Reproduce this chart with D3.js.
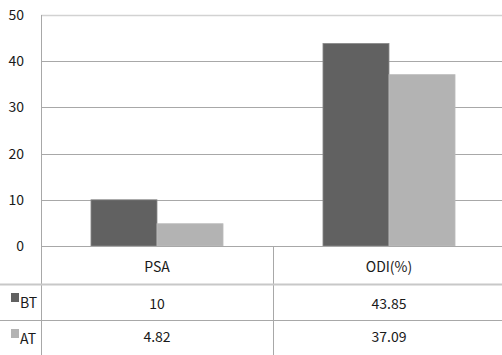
<!DOCTYPE html>
<html>
<head>
<meta charset="utf-8">
<script src="https://cdn.jsdelivr.net/npm/d3@7/dist/d3.min.js"></script>
<style>
  html, body { margin: 0; padding: 0; background: #fff; }
  svg { display: block; }
  text { font-family: "Noto Sans CJK KR", "Noto Sans", sans-serif; fill: #1a1a1a; }
</style>
</head>
<body>
<svg id="chart" width="502" height="355"></svg>
<script>
// Chart data
const categories = ["PSA", "ODI(%)"];
const seriesNames = ["BT", "AT"];
const btValues = [10, 43.85];
const atValues = [4.82, 37.09];
const valueLabels = [["10", "43.85"], ["4.82", "37.09"]];
const yTicks = [0, 10, 20, 30, 40, 50];

const seriesValues = [btValues, atValues];
const colors = ["#616161", "#b3b3b3"];

const svg = d3.select("#chart");
const plotLeft = 41, plotRight = 505, plotTop = 15, plotBottom = 246;
const rowLines = [284, 320];
const tableBottom = 355;

const x = d3.scaleBand().domain(categories).range([plotLeft, plotRight]).paddingInner(0).paddingOuter(0);
const xs = d3.scaleBand().domain(seriesNames).range([0, x.bandwidth()]).paddingInner(0).paddingOuter(0.757);
const y = d3.scaleLinear().domain([0, 50]).range([plotBottom, plotTop]);

// gridlines
svg.append("g").selectAll("line").data(yTicks.filter(d => d > 0)).join("line")
  .attr("x1", plotLeft).attr("x2", plotRight)
  .attr("y1", d => Math.round(y(d)) + 0.5).attr("y2", d => Math.round(y(d)) + 0.5)
  .attr("stroke", d => d === 50 ? "#d2d2d2" : "#a8a8a8")
  .attr("stroke-width", d => d === 50 ? 1.5 : 1);

// y axis labels
const yAxis = d3.axisLeft(y).tickValues(yTicks).tickSize(0).tickPadding(0);
const ya = svg.append("g").attr("transform", "translate(24,0)").call(yAxis);
ya.select(".domain").remove();
ya.selectAll("text").style("font-size", "14px").attr("fill", "#1a1a1a")
  .style("font-family", '"Noto Sans CJK KR", "Noto Sans", sans-serif');

// bars
const groups = svg.append("g").selectAll("g").data(categories).join("g")
  .attr("transform", d => `translate(${x(d)},0)`);
groups.selectAll("rect").data((c, i) => seriesNames.map((s, j) => ({ s, v: seriesValues[j][i], j })))
  .join("rect")
  .attr("x", d => xs(d.s))
  .attr("width", xs.bandwidth())
  .attr("y", d => y(d.v))
  .attr("height", d => y(0) - y(d.v))
  .attr("fill", d => colors[d.j])
  .attr("stroke", d => d.j === 0 ? "#8a8a8a" : "#bdbdbd")
  .attr("stroke-width", 0.8);

// zero line / table top
svg.append("line").attr("x1", plotLeft).attr("x2", plotRight)
  .attr("y1", plotBottom + 0.5).attr("y2", plotBottom + 0.5).attr("stroke", "#a8a8a8");

// plot left border, extending through the table
svg.append("line").attr("x1", plotLeft + 0.5).attr("x2", plotLeft + 0.5)
  .attr("y1", plotTop).attr("y2", tableBottom).attr("stroke", "#a8a8a8");

// table column divider
svg.append("line").attr("x1", x(categories[1]) + 0.5).attr("x2", x(categories[1]) + 0.5)
  .attr("y1", plotBottom).attr("y2", tableBottom).attr("stroke", "#a8a8a8");

// table row lines
svg.append("line").attr("x1", 0).attr("x2", plotRight)
  .attr("y1", rowLines[0] + 0.5).attr("y2", rowLines[0] + 0.5).attr("stroke", "#c8c8c8").attr("stroke-width", 2);
svg.append("line").attr("x1", 0).attr("x2", plotRight)
  .attr("y1", rowLines[1] + 0.5).attr("y2", rowLines[1] + 0.5).attr("stroke", "#a8a8a8");

// category header row
svg.append("g").selectAll("text").data(categories).join("text")
  .attr("x", d => x(d) + x.bandwidth() / 2)
  .attr("y", 272)
  .attr("text-anchor", "middle")
  .style("font-size", "14px")
  .text(d => d);

// value rows with legend keys
const rowBaselines = [309, 342];
const keyTops = [293, 329];
const keyBaselines = [308, 344];
seriesNames.forEach((s, j) => {
  svg.append("g").selectAll("text").data(categories).join("text")
    .attr("x", d => x(d) + x.bandwidth() / 2)
    .attr("y", rowBaselines[j])
    .attr("text-anchor", "middle")
    .style("font-size", "14px")
    .text((d, i) => valueLabels[j][i]);
  svg.append("rect").attr("x", 11).attr("y", keyTops[j]).attr("width", 8).attr("height", 9)
    .attr("fill", colors[j]);
  svg.append("text").attr("x", 20).attr("y", keyBaselines[j])
    .style("font-size", "14px").text(s);
});
</script>
</body>
</html>
